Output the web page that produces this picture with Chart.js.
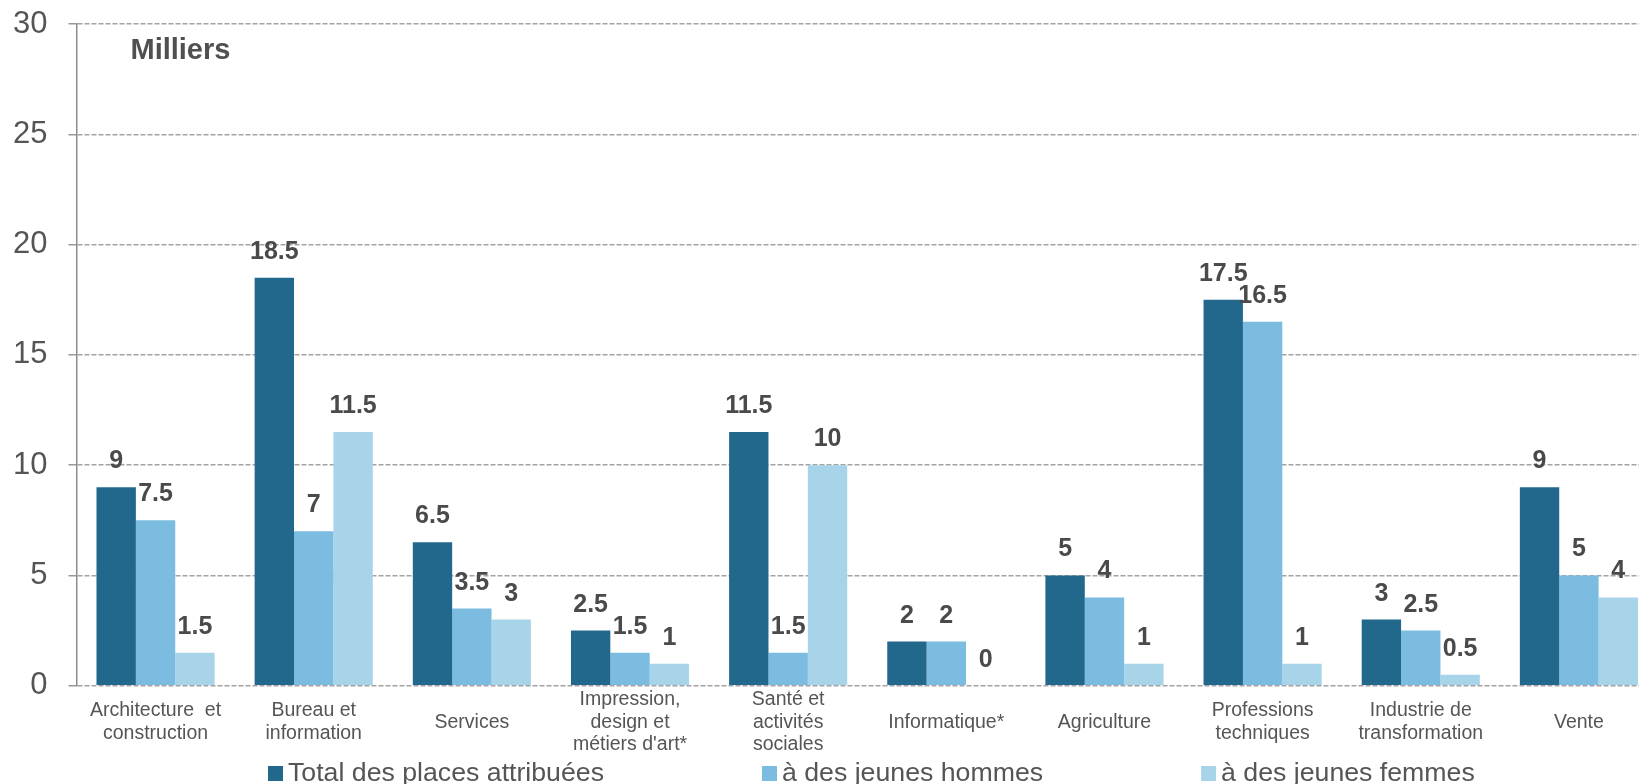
<!DOCTYPE html>
<html lang="fr">
<head>
<meta charset="UTF-8">
<title>Places attribuées par domaine</title>
<script src="https://cdn.jsdelivr.net/npm/chart.js"></script>
<style>
  html, body { margin: 0; padding: 0; background: #fff; overflow: hidden; }
  #wrap { width: 1639px; height: 784px; overflow: hidden; }
  canvas { display: block; }
</style>
</head>
<body>
<div id="wrap"><canvas id="chart" width="1680" height="784"></canvas></div>
<script>
  const categories = [
    ['Architecture  et', 'construction'],
    ['Bureau et', 'information'],
    'Services',
    ['Impression,', 'design et', "métiers d'art*"],
    ['Santé et', 'activités', 'sociales'],
    'Informatique*',
    'Agriculture',
    ['Professions', 'techniques'],
    ['Industrie de', 'transformation'],
    'Vente'
  ];
  const totalPlaces  = [9, 18.5, 6.5, 2.5, 11.5, 2, 5, 17.5, 3, 9];
  const jeunesHommes = [7.5, 7, 3.5, 1.5, 1.5, 2, 4, 16.5, 2.5, 5];
  const jeunesFemmes = [1.5, 11.5, 3, 1, 10, 0, 1, 1, 0.5, 4];
  const seriesNames  = ['Total des places attribuées', 'à des jeunes hommes', 'à des jeunes femmes'];
  const seriesColors = ['#22688D', '#7BBCE0', '#A8D4EA'];
  const unitLabel = 'Milliers';
  const yMax = 30;
  const yStep = 5;

  const FONT = "'Liberation Sans', Arial, sans-serif";

  // value above each bar
  const valueLabels = {
    id: 'valueLabels',
    afterDatasetsDraw(chart) {
      const ctx = chart.ctx;
      ctx.save();
      ctx.font = 'bold 25px ' + FONT;
      ctx.fillStyle = '#4a4a4a';
      ctx.textAlign = 'center';
      ctx.textBaseline = 'alphabetic';
      chart.data.datasets.forEach((ds, i) => {
        chart.getDatasetMeta(i).data.forEach((bar, j) => {
          ctx.fillText(String(ds.data[j]), bar.x, bar.y - 19);
        });
      });
      ctx.restore();
    }
  };

  // "Milliers" in the top-left corner of the plot
  const unitText = {
    id: 'unitText',
    afterDraw(chart) {
      const ctx = chart.ctx;
      ctx.save();
      ctx.font = 'bold 29px ' + FONT;
      ctx.fillStyle = '#505050';
      ctx.textAlign = 'left';
      ctx.textBaseline = 'middle';
      ctx.fillText(unitLabel, chart.chartArea.left + 54, 51);
      ctx.restore();
    }
  };

  // legend on one row with wide gaps
  const bottomLegend = {
    id: 'bottomLegend',
    afterDraw(chart) {
      const ctx = chart.ctx;
      ctx.save();
      ctx.font = '26.7px ' + FONT;
      ctx.textBaseline = 'middle';
      ctx.textAlign = 'left';
      let x = 268;
      const y = 774;
      seriesNames.forEach((name, i) => {
        ctx.fillStyle = seriesColors[i];
        ctx.fillRect(x, y - 8, 15, 15);
        ctx.fillStyle = '#555555';
        ctx.fillText(name, x + 20, y);
        x += 20 + ctx.measureText(name).width + 158;
      });
      ctx.restore();
    }
  };

  new Chart(document.getElementById('chart'), {
    type: 'bar',
    data: {
      labels: categories,
      datasets: [
        { label: seriesNames[0], data: totalPlaces,  backgroundColor: seriesColors[0] },
        { label: seriesNames[1], data: jeunesHommes, backgroundColor: seriesColors[1] },
        { label: seriesNames[2], data: jeunesFemmes, backgroundColor: seriesColors[2] }
      ]
    },
    options: {
      responsive: false,
      animation: false,
      devicePixelRatio: 1,
      layout: { padding: { top: 24, right: 22, bottom: 3, left: -8 } },
      datasets: {
        bar: { categoryPercentage: 0.747, barPercentage: 1, borderWidth: 0 }
      },
      plugins: {
        legend: { display: false },
        tooltip: { enabled: false }
      },
      scales: {
        x: {
          grid: { display: false, drawTicks: false },
          border: { display: false },
          ticks: {
            color: '#555555',
            font: { family: FONT, size: 19.5, lineHeight: 1.15 },
            padding: 14,
            maxRotation: 0,
            autoSkip: false,
            crossAlign: 'center'
          }
        },
        y: {
          min: 0,
          max: yMax,
          afterFit(scale) {
            // the big tick labels may overflow the plot top/bottom, as in the original
            scale.paddingTop = 0;
            scale.paddingBottom = 0;
          },
          grid: {
            color: '#a3a3a3',
            lineWidth: 1.5,
            tickLength: 8,
            tickColor: '#999999',
            tickWidth: 1.5
          },
          border: { display: true, color: '#8c8c8c', width: 1.5, dash: [5, 2] },
          ticks: {
            stepSize: yStep,
            color: '#555555',
            font: { family: FONT, size: 31 },
            padding: 21
          }
        }
      }
    },
    plugins: [valueLabels, unitText, bottomLegend]
  });
</script>
</body>
</html>
